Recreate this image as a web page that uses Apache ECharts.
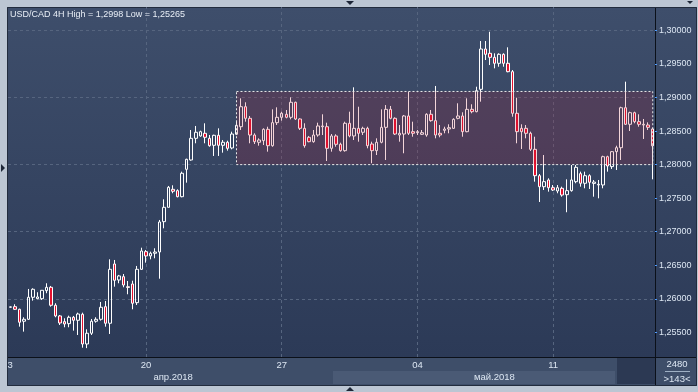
<!DOCTYPE html>
<html><head><meta charset="utf-8">
<script src="https://cdn.jsdelivr.net/npm/echarts@6/dist/echarts.min.js"></script>
<style>html,body{margin:0;padding:0;background:#bcc6d3;}#c{width:698px;height:392px;}</style>
</head><body><div id="c"></div>
<script>
// ---- data (USD/CAD 4H, 143 candles) ----
const opens = [1.25875,1.25883,1.25844,1.25666,1.25695,1.26023,1.26002,1.26002,1.26122,1.26172,
1.25904,1.25745,1.2566,1.2563,1.25725,1.2568,1.2577,1.25327,1.25487,1.25666,
1.25695,1.25883,1.25636,1.26519,1.26281,1.2633,1.2618,1.26221,1.25943,1.2644,
1.26703,1.26639,1.26679,1.26698,1.2715,1.27364,1.27632,1.27612,1.27522,1.2793,
1.28069,1.28392,1.28427,1.28467,1.28392,1.28288,1.28437,1.28288,1.28333,1.28248,
1.28452,1.28565,1.28863,1.2869,1.28441,1.28333,1.28357,1.28526,1.28282,1.28625,
1.28705,1.2875,1.28705,1.28929,1.2868,1.28541,1.28407,1.28342,1.28441,1.28565,
1.28565,1.28243,1.28427,1.28303,1.28208,1.28616,1.28427,1.28541,1.28482,1.28541,
1.28307,1.28208,1.28333,1.28556,1.28824,1.2869,1.28441,1.28456,1.28725,1.28491,
1.28476,1.28452,1.28441,1.2875,1.28655,1.28467,1.28511,1.28531,1.28541,1.2869,
1.28725,1.28491,1.28824,1.28789,1.29122,1.29723,1.29659,1.29599,1.2951,1.29644,
1.2951,1.29385,1.28765,1.28541,1.28541,1.28467,1.28228,1.27835,1.27671,1.27771,
1.27656,1.27607,1.27647,1.27552,1.27612,1.27746,1.27865,1.27722,1.27835,1.2772,
1.27697,1.27697,1.28118,1.2797,1.28193,1.28252,1.28848,1.28601,1.28774,1.2864,
1.2859,1.2859,1.28531];
const highs = [1.25885,1.25919,1.25853,1.25725,1.26147,1.26157,1.26098,1.26127,1.26232,1.26192,
1.25934,1.25759,1.2571,1.25749,1.25745,1.25794,1.25794,1.25546,1.257,1.25725,
1.25953,1.25968,1.26589,1.26579,1.26356,1.2637,1.26266,1.2627,1.2649,1.26762,
1.26728,1.26703,1.26753,1.27175,1.27483,1.27682,1.27692,1.27632,1.27895,1.28088,
1.28516,1.28576,1.28506,1.28616,1.28441,1.28446,1.28541,1.28367,1.28357,1.28491,
1.2864,1.28988,1.28929,1.28725,1.28467,1.28392,1.28541,1.28565,1.28824,1.28854,
1.28789,1.28814,1.29003,1.28938,1.2869,1.28616,1.28427,1.28516,1.28625,1.2875,
1.28625,1.28456,1.28452,1.28327,1.2864,1.28789,1.29152,1.28863,1.28565,1.28565,
1.28342,1.28392,1.28824,1.28888,1.28874,1.28705,1.2859,1.2874,1.29087,1.2864,
1.28516,1.28516,1.28765,1.28814,1.29172,1.2859,1.28565,1.28601,1.2869,1.28914,
1.2878,1.28988,1.28899,1.29161,1.29842,1.29842,1.2998,1.29659,1.29659,1.29659,
1.29748,1.2941,1.28997,1.28601,1.2859,1.28491,1.28416,1.2786,1.28143,1.27796,
1.27696,1.27696,1.27671,1.27781,1.27994,1.27994,1.27895,1.27895,1.27856,1.27771,
1.27771,1.28133,1.28133,1.28203,1.28282,1.28863,1.29236,1.28789,1.28789,1.2875,
1.2868,1.2863,1.2855];
const lows = [1.2587,1.25834,1.25585,1.25511,1.25685,1.25973,1.25993,1.25983,1.26083,1.25883,
1.25725,1.2561,1.25576,1.25576,1.25526,1.25461,1.25272,1.25265,1.25461,1.25645,
1.25675,1.25585,1.25476,1.26181,1.26232,1.26172,1.26068,1.25844,1.25908,1.2643,
1.26539,1.26589,1.26604,1.263,1.27051,1.27364,1.27573,1.27513,1.27513,1.27731,
1.28059,1.28318,1.28416,1.28318,1.28267,1.28129,1.28129,1.28178,1.28208,1.28228,
1.2844,1.28516,1.2864,1.28318,1.28307,1.28282,1.28292,1.28193,1.28267,1.2859,
1.28655,1.2869,1.28675,1.28665,1.28516,1.28252,1.28333,1.28327,1.28416,1.28441,
1.28054,1.28193,1.28267,1.28193,1.28193,1.28407,1.28367,1.28342,1.28441,1.28243,
1.2802,1.28143,1.28318,1.28069,1.28675,1.28441,1.28342,1.28169,1.28441,1.28416,
1.28441,1.28441,1.28416,1.2864,1.28392,1.28407,1.28467,1.28467,1.28531,1.28675,
1.28416,1.28482,1.28765,1.2878,1.28938,1.29559,1.29484,1.29435,1.29459,1.29459,
1.29376,1.28714,1.28318,1.28233,1.28392,1.28203,1.27746,1.27443,1.27622,1.27597,
1.27607,1.27573,1.27522,1.2729,1.27597,1.27722,1.27671,1.27647,1.27637,1.27522,
1.27498,1.27647,1.27895,1.27935,1.2792,1.28069,1.2859,1.28501,1.28616,1.28565,
1.28382,1.28516,1.27781];
const closes = [1.2588,1.25844,1.25651,1.25695,1.26023,1.26142,1.26028,1.26127,1.26172,1.25904,
1.25745,1.2564,1.25625,1.25725,1.2568,1.25774,1.25327,1.25487,1.25666,1.25695,
1.25874,1.25636,1.2644,1.26276,1.26341,1.26206,1.2617,1.25934,1.2644,1.26713,
1.26639,1.26679,1.26698,1.27145,1.27364,1.27662,1.27603,1.27522,1.27871,1.28079,
1.28392,1.28482,1.28491,1.28407,1.28282,1.28437,1.28288,1.28333,1.28243,1.28456,
1.28586,1.28863,1.2869,1.28441,1.28342,1.28367,1.28526,1.28282,1.28625,1.28705,
1.28765,1.28705,1.28929,1.2868,1.28541,1.28282,1.28342,1.28441,1.28576,1.28576,
1.28243,1.28427,1.28303,1.28208,1.28616,1.28427,1.28541,1.28467,1.28541,1.28282,
1.28208,1.28333,1.28556,1.28824,1.2869,1.28456,1.28467,1.28725,1.28467,1.28467,
1.28491,1.28476,1.2875,1.28655,1.28441,1.28441,1.28531,1.2855,1.28675,1.28725,
1.28491,1.28824,1.28789,1.29102,1.29723,1.29644,1.29599,1.2951,1.29644,1.2951,
1.29385,1.28765,1.28491,1.28491,1.28467,1.28228,1.27835,1.27671,1.27746,1.27656,
1.27622,1.27656,1.27547,1.27612,1.27771,1.2796,1.27722,1.27835,1.27737,1.2774,
1.27707,1.28118,1.2798,1.28193,1.28252,1.28848,1.28601,1.28774,1.2864,1.28601,
1.28601,1.28556,1.2828];

const yTicks = [1.255,1.26,1.265,1.27,1.275,1.28,1.285,1.29,1.295,1.30];
const xTickIdx = [0,30,60,90,120];
const xTickText = ['3','20','27','04','11'];
const monthIdx = [36,107];
const monthText = ['апр.2018','май.2018'];
const zoneFrom = 50, zoneTo = 142, zoneLow = 1.2800, zoneHigh = 1.2909;
const titleText = 'USD/CAD 4H High = 1,2998 Low = 1,25265';
const barsText = '2480', countText = '>143<';

const categories = opens.map((_, i) => String(i));
const candles = opens.map((o, i) => [o, closes[i], lows[i], highs[i]]);
const fmt = v => v.toFixed(5).replace('.', ',');
const FONT = 'Liberation Sans';
const TXT = '#dce6f2';

const chart = echarts.init(document.getElementById('c'), null, {renderer: 'canvas'});
chart.setOption({
  animation: false,
  backgroundColor: '#bcc6d3',
  title: {text: titleText, left: 10, top: 10, padding: 0,
    textStyle: {color: '#e8eef6', fontSize: 9, fontWeight: 'normal', fontFamily: FONT}},
  grid: {left: 8, right: 43, top: 7, bottom: 35, containLabel: false},
  xAxis: [{
    type: 'category', data: categories, boundaryGap: true,
    axisLine: {show: false}, axisTick: {show: false}, splitLine: {show: false},
    axisLabel: {interval: (i) => xTickIdx.includes(i), formatter: (v, i) => { const k = xTickIdx.indexOf(i); return k >= 0 ? xTickText[k] : ''; },
      margin: 3, color: TXT, fontSize: 9.5, fontFamily: FONT}
  }, {
    type: 'category', data: categories, boundaryGap: true, position: 'bottom', offset: 13,
    axisLine: {show: false}, axisTick: {show: false}, splitLine: {show: false},
    axisLabel: {interval: (i) => monthIdx.includes(i), formatter: (v, i) => { const k = monthIdx.indexOf(i); return k >= 0 ? monthText[k] : ''; },
      margin: 2, color: TXT, fontSize: 9.5, fontFamily: FONT}
  }],
  yAxis: {
    type: 'value', position: 'right', min: 1.25133, max: 1.30349, scale: true,
    splitLine: {show: false}, axisLine: {show: false},
    axisTick: {show: true, customValues: yTicks, length: 2, lineStyle: {color: '#4f9cff'}},
    axisLabel: {customValues: yTicks, margin: 4, color: TXT, fontSize: 9, fontFamily: FONT, formatter: fmt}
  },
  series: [{
    type: 'line', data: [], z: 1, silent: true,
    markLine: {z: 1, silent: true, symbol: ['none', 'none'], label: {show: false},
      lineStyle: {color: '#56657f', type: [3, 3], width: 1},
      data: [...yTicks.map(v => ({yAxis: v})), ...xTickIdx.slice(1).map(i => ({xAxis: i}))]}
  }, {
    type: 'candlestick', z: 2, data: candles, barWidth: 3,
    itemStyle: {color: 'rgba(0,0,0,0)', color0: '#e5112f', borderColor: '#ffffff', borderColor0: '#ffffff', borderWidth: 1}
  }, {
    type: 'line', data: [], z: 3, silent: true,
    markArea: {z: 6, silent: true,
      itemStyle: {color: 'rgba(190,20,45,0.18)', borderColor: '#e8e8e8', borderWidth: 1, borderType: [2, 2]},
      data: [[{xAxis: zoneFrom, yAxis: zoneHigh}, {xAxis: zoneTo, yAxis: zoneLow}]]},
    markLine: {z: 7, silent: true, symbol: ['none', 'none'], lineStyle: {opacity: 0},
      label: {show: true, position: 'end', distance: 3, formatter: () => fmt(closes[closes.length - 1]),
        color: '#1e2c44', backgroundColor: '#c3c9d1', padding: [2, 2, 1, 2], fontSize: 9.5, fontFamily: FONT},
      data: [{yAxis: closes[closes.length - 1]}]}
  }],
  graphic: [
    {type: 'rect', z: -10, shape: {x: 7, y: 7, width: 690, height: 350},
      style: {fill: new echarts.graphic.LinearGradient(0, 0, 0, 1, [{offset: 0, color: '#3e4e6b'}, {offset: 1, color: '#2c3a57'}])}},
    {type: 'rect', z: -9, shape: {x: 7, y: 357, width: 690, height: 29}, style: {fill: '#3e4e69'}},
    {type: 'rect', z: -8, shape: {x: 333, y: 371, width: 282, height: 13}, style: {fill: '#4a5a75'}},
    {type: 'rect', z: -8, shape: {x: 617, y: 358, width: 38, height: 26}, style: {fill: '#2c3953'}},
    {type: 'line', z: -7, shape: {x1: 655.5, y1: 7, x2: 655.5, y2: 386}, style: {stroke: '#0b1019', lineWidth: 1}},
    {type: 'line', z: -7, shape: {x1: 7, y1: 357.5, x2: 697, y2: 357.5}, style: {stroke: '#0b1019', lineWidth: 1}},
    {type: 'rect', z: -7, shape: {x: 7.5, y: 7.5, width: 689, height: 378}, style: {fill: 'none', stroke: '#222c3d', lineWidth: 1}},
    {type: 'line', z: -7, shape: {x1: 665, y1: 371.5, x2: 690, y2: 371.5}, style: {stroke: '#9fb0c4', lineWidth: 1}},
    {type: 'text', z: 5, style: {text: barsText, x: 677, y: 364, align: 'center', verticalAlign: 'middle', fill: TXT, fontSize: 9.5, fontFamily: FONT}},
    {type: 'text', z: 5, style: {text: countText, x: 677, y: 379, align: 'center', verticalAlign: 'middle', fill: TXT, fontSize: 9.5, fontFamily: FONT}},
    {type: 'polygon', z: 5, shape: {points: [[346, 1], [354, 1], [350, 5]]}, style: {fill: '#1d2637'}},
    {type: 'polygon', z: 5, shape: {points: [[687, 1], [693, 1], [690, 4]]}, style: {fill: '#1d2637'}},
    {type: 'polygon', z: 5, shape: {points: [[346, 391], [354, 391], [350, 387]]}, style: {fill: '#1d2637'}},
    {type: 'polygon', z: 5, shape: {points: [[1, 164], [1, 172], [5, 168]]}, style: {fill: '#1d2637'}}
  ]
});
</script></body></html>
